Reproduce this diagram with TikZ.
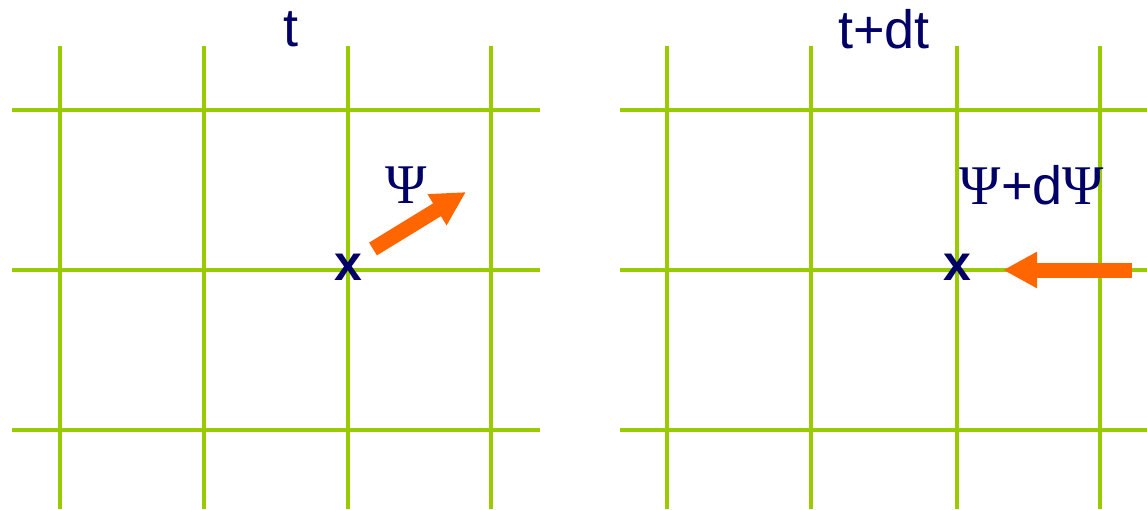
\documentclass[tikz,border=0pt]{standalone}
\usepackage{fontspec}
\setmainfont{Liberation Sans}
\newfontfamily\psifont{Liberation Serif}
\usetikzlibrary{arrows.meta}
\definecolor{gridgreen}{HTML}{99CC00}
\definecolor{navytext}{HTML}{000066}
\definecolor{arroworange}{HTML}{FF6600}
\begin{document}
\begin{tikzpicture}[x=1pt,y=-1pt,
  gridline/.style={draw=gridgreen,line width=4pt},
  lbl/.style={text=navytext,inner sep=0pt,font=\fontsize{54}{58}\selectfont},
  psilbl/.style={text=navytext,inner sep=0pt,font=\fontsize{56}{60}\selectfont\psifont},
  xmark/.style={text=navytext,inner sep=0pt,font=\fontsize{50}{54}\selectfont\bfseries},
  bigarrow/.style={draw=arroworange,line width=15pt,-{Triangle[length=34pt,width=34pt]}}]
\useasboundingbox (0,0) rectangle (1147,509);
% left grid
\foreach \y in {110,270,430} \draw[gridline] (12,\y) -- (540,\y);
\foreach \x in {60,204,348,491} \draw[gridline] (\x,46) -- (\x,509);
% right grid
\foreach \y in {110,270,430} \draw[gridline] (620,\y) -- (1147,\y);
\foreach \x in {667,811,957,1100} \draw[gridline] (\x,46) -- (\x,509);
% titles
\node[lbl] (tl) at (291,29) {t};
\node[lbl] (tr) at (884,29) {t+dt};
% markers
\node[xmark] (xl) at (348,267) {x};
\node[xmark] (xr) at (957,267) {x};
% labels
\node[psilbl] (psil) at (406,185) {Ψ};
\node[lbl] (psir) at (1032,185) {{\psifont\fontsize{56}{60}\selectfont Ψ}+d{\psifont\fontsize{56}{60}\selectfont Ψ}};
% arrows
\coordinate (al0) at (373,249);
\coordinate (al1) at (466,192);
\draw[bigarrow] (al0) -- (al1);
\coordinate (ar0) at (1132,270);
\coordinate (ar1) at (1003,270);
\draw[bigarrow] (ar0) -- (ar1);
\end{tikzpicture}
\end{document}
